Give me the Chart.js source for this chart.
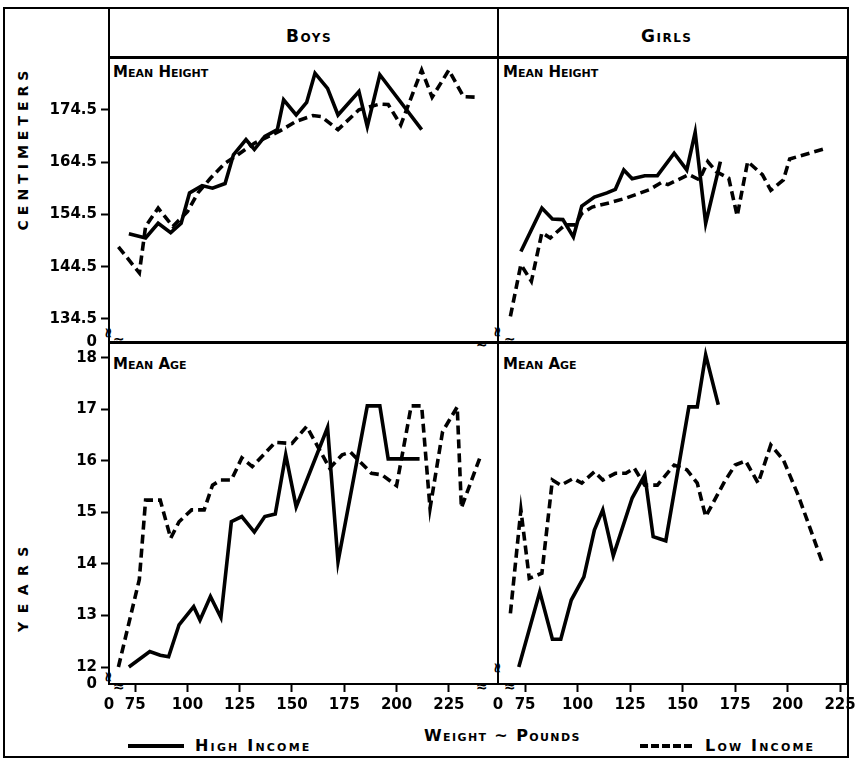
<!DOCTYPE html>
<html><head><meta charset="utf-8">
<script src="https://cdn.jsdelivr.net/npm/chart.js@4.4.0/dist/chart.umd.min.js"></script>
<style>
html,body{margin:0;padding:0;background:#fff;}
#wrap{position:relative;width:856px;height:761px;overflow:hidden;background:#fff;font-family:"DejaVu Sans",sans-serif;font-weight:bold;color:#000;}
canvas{position:absolute;}
.ln{position:absolute;background:#000;}
.t{position:absolute;white-space:nowrap;font-variant:small-caps;line-height:1;}
.v{position:absolute;white-space:nowrap;line-height:1;transform:rotate(-90deg);transform-origin:center center;}
.br{position:absolute;font-size:14px;line-height:1;font-weight:bold;}
.brv{position:absolute;font-size:14px;line-height:1;font-weight:bold;transform:rotate(90deg);}
</style></head><body>
<div id="wrap">
  <div class="ln" style="left:3px;top:7px;width:846px;height:2px"></div>
  <div class="ln" style="left:3px;top:756px;width:846px;height:2px"></div>
  <div class="ln" style="left:3px;top:7px;width:2px;height:751px"></div>
  <div class="ln" style="left:847px;top:7px;width:2px;height:751px"></div>
  <div class="ln" style="left:108px;top:7px;width:2px;height:52px"></div>
  <div class="ln" style="left:497px;top:7px;width:2px;height:52px"></div>
  <div class="ln" style="left:108px;top:56px;width:741px;height:2px"></div>

  <div class="t" style="left:286px;top:28px;font-size:17px;letter-spacing:1.5px">Boys</div>
  <div class="t" style="left:641px;top:28px;font-size:17px;letter-spacing:1.5px">Girls</div>
  <div class="t" style="left:113px;top:65px;font-size:15px">Mean Height</div>
  <div class="t" style="left:503px;top:65px;font-size:15px">Mean Height</div>
  <div class="t" style="left:113px;top:357px;font-size:15px">Mean Age</div>
  <div class="t" style="left:503px;top:357px;font-size:15px">Mean Age</div>

  <div class="v" style="left:-62px;top:141px;width:170px;text-align:center;font-size:14px;letter-spacing:5px">CENTIMETERS</div>
  <div class="v" style="left:-29px;top:578px;width:104px;text-align:center;font-size:14px;letter-spacing:8.5px">YEARS</div>

  <div class="ln" style="left:128px;top:744px;width:56px;height:4px"></div>
  <div class="t" style="left:195px;top:738px;font-size:16px;letter-spacing:2.2px">High Income</div>
  <div class="t" style="left:424px;top:728px;font-size:16px;letter-spacing:1.4px">Weight ~ Pounds</div>
  <div style="position:absolute;left:640px;top:744px;width:54px;height:4px;background:repeating-linear-gradient(90deg,#000 0 8px,transparent 8px 11px)"></div>
  <div class="t" style="left:705px;top:738px;font-size:16px;letter-spacing:2.2px">Low Income</div>

  <!-- axis break marks -->
  <div class="brv" style="left:103px;top:326px">≈</div>
  <div class="br" style="left:113px;top:333px">≈</div>
  <div class="br" style="left:476px;top:336px">≈</div>
  <div class="brv" style="left:492px;top:325px">≈</div>
  <div class="br" style="left:504px;top:333px">≈</div>
  <div class="brv" style="left:103px;top:670px">≈</div>
  <div class="br" style="left:113px;top:679px">≈</div>
  <div class="br" style="left:476px;top:679px">≈</div>
  <div class="brv" style="left:492px;top:661px">≈</div>
  <div class="br" style="left:504px;top:679px">≈</div>

  <canvas id="cA" width="468" height="300" style="left:30px;top:50px"></canvas>
  <canvas id="cB" width="468" height="400" style="left:30px;top:335px"></canvas>
  <canvas id="cC" width="360" height="300" style="left:498px;top:50px"></canvas>
  <canvas id="cD" width="370" height="400" style="left:488px;top:335px"></canvas>
</div>
<script>
// ---- Data (weight in pounds, height in cm, age in years) ----
const boysHeightHighWt = [72,80,86,92,97,101,107,112,118,122,128,132,137,143,146,152,157,161,167,172,182,186,192,212];
const boysHeightHighCm = [150.8,150.0,152.8,151.0,152.8,158.6,160.0,159.5,160.4,165.9,168.8,166.9,169.4,170.7,176.4,173.5,175.9,181.5,178.6,173.5,178.0,171.3,181.2,170.7];
const boysHeightLowWt  = [67,77,80,86,93,100,105,111,118,123,132,144,152,160,164,172,182,192,196,202,212,217,225,232,238];
const boysHeightLowCm  = [148.3,143.3,152.2,155.7,152.2,155.0,158.6,161.4,164.3,165.6,168.1,170.4,172.3,173.4,173.2,170.7,174.5,175.6,175.5,171.6,182.1,176.9,182.1,177.0,176.9];

const girlsHeightHighWt = [73,83,88,93,98,102,108,114,118,122,126,132,138,146,152,156,161,168];
const girlsHeightHighCm = [147.4,155.7,153.6,153.5,150.2,156.1,157.8,158.6,159.3,163.0,161.3,161.9,161.9,166.2,163.0,170.2,152.8,164.6];
const girlsHeightLowWt  = [68,73,78,83,87,94,99,102,107,115,123,134,140,143,153,158,162,166,172,176,181,188,192,198,201,219];
const girlsHeightLowCm  = [135.0,144.9,141.7,151.0,150.0,152.5,152.5,154.7,155.9,156.7,157.6,159.2,160.6,160.2,162.1,161.1,164.6,162.7,161.4,154.2,164.6,162.1,159.1,161.1,165.1,167.2];

const boysAgeHighWt = [72,82,87,91,96,103,106,111,116,121,126,132,137,142,147,152,167,172,186,192,196,211];
const boysAgeHighYr = [12.0,12.3,12.23,12.2,12.82,13.17,12.91,13.37,12.96,14.82,14.92,14.62,14.92,14.97,16.12,15.11,16.65,14.04,17.07,17.07,16.04,16.04];
const boysAgeLowWt  = [67,77,80,87,92,96,102,108,112,116,121,126,131,142,150,157,168,174,178,188,193,200,207,212,216,222,229,231,240];
const boysAgeLowYr  = [12.0,13.7,15.24,15.24,14.5,14.82,15.05,15.05,15.53,15.63,15.63,16.06,15.89,16.36,16.34,16.67,15.86,16.12,16.17,15.76,15.73,15.52,17.07,17.07,15.08,16.57,17.05,15.09,16.08];

const girlsAgeHighWt = [72,82,88,92,97,103,108,112,117,126,132,136,142,153,157,161,167];
const girlsAgeHighYr = [12.0,13.46,12.54,12.54,13.3,13.75,14.66,15.05,14.16,15.28,15.73,14.53,14.45,17.05,17.05,18.06,17.09];
const girlsAgeLowWt  = [68,73,77,83,88,92,98,102,108,112,118,123,127,132,138,146,152,157,161,170,175,180,186,192,198,205,211,217];
const girlsAgeLowYr  = [13.04,15.05,13.72,13.82,15.63,15.53,15.66,15.57,15.79,15.63,15.76,15.76,15.86,15.53,15.53,15.92,15.83,15.57,14.92,15.6,15.92,16.0,15.57,16.31,16.02,15.34,14.66,13.98];

// ---- Tick labels ----
const heightTicks = [134.5,144.5,154.5,164.5,174.5];
const ageTicks = [12,13,14,15,16,17,18];
const weightTicks = [75,100,125,150,175,200,225];

const FONT = {family:'"DejaVu Sans", sans-serif', size:15, weight:'bold'};
const pts = (xs, ys) => xs.map((x,i)=>({x, y:ys[i]}));

const framePlugin = {
  id:'frame',
  afterDraw(chart){
    const {ctx, chartArea:a} = chart;
    ctx.save(); ctx.strokeStyle='#000'; ctx.lineWidth=2;
    ctx.strokeRect(a.left, a.top, a.right-a.left, a.bottom-a.top);
    ctx.restore();
  }
};

function zeroPad(s){ s.paddingTop=0; s.paddingBottom=0; s.paddingLeft=0; s.paddingRight=0; }

function tickAxis(list, min, max, fmt, opts){
  return Object.assign({
    type:'linear', min, max,
    afterBuildTicks(axis){ axis.ticks = [{value:min}].concat(list.map(v=>({value:v}))); },
    ticks:{ autoSkip:false, maxRotation:0, color:'#000', font:FONT, padding:4,
      callback:(v)=> (Math.abs(v-min)<1e-6 ? '0' : fmt(v)) },
    grid:{ drawOnChartArea:false, tickLength:8, tickWidth:2,
      tickColor:(c)=> c.index===0 ? 'rgba(0,0,0,0)' : '#000' },
    border:{display:false}
  }, opts||{});
}

function makeChart(id, high, low, xr, yr, showX, showY, yList, yFmt, pad){
  const xScale = showX
    ? tickAxis(weightTicks, xr[0], xr[1], v=>String(v), {afterFit(s){ s.height = 51; zeroPad(s); }})
    : {type:'linear', display:false, min:xr[0], max:xr[1]};
  const yScale = showY
    ? tickAxis(yList, yr[0], yr[1], yFmt, {afterFit(s){ s.width = 79; zeroPad(s); }})
    : {type:'linear', display:false, min:yr[0], max:yr[1]};
  return new Chart(document.getElementById(id), {
    type:'scatter',
    data:{ datasets:[
      {label:'High Income', data:high, showLine:true, borderColor:'#000', borderWidth:3.6, pointRadius:0, tension:0, fill:false, borderJoinStyle:'miter'},
      {label:'Low Income', data:low, showLine:true, borderColor:'#000', borderWidth:3.6, borderDash:[9,5], pointRadius:0, tension:0, fill:false}
    ]},
    options:{
      responsive:false, animation:false, devicePixelRatio:1,
      layout:{padding:pad},
      plugins:{legend:{display:false}, tooltip:{enabled:false}},
      scales:{x:xScale, y:yScale}
    },
    plugins:[framePlugin]
  });
}

const xBoys = [62.5, 248.5], xGirls = [62.1, 228.3];
const yHeight = [130.1, 184.4], yAge = [11.67, 18.29];
makeChart('cA', pts(boysHeightHighWt,boysHeightHighCm), pts(boysHeightLowWt,boysHeightLowCm), xBoys, yHeight, false, true, heightTicks, v=>v.toFixed(1), {top:8,bottom:8,left:0,right:0});
makeChart('cB', pts(boysAgeHighWt,boysAgeHighYr), pts(boysAgeLowWt,boysAgeLowYr), xBoys, yAge, true, true, ageTicks, v=>String(v), {top:8,bottom:0,left:0,right:0});
makeChart('cC', pts(girlsHeightHighWt,girlsHeightHighCm), pts(girlsHeightLowWt,girlsHeightLowCm), xGirls, yHeight, false, false, heightTicks, v=>v.toFixed(1), {top:8,bottom:8,left:0,right:11});
makeChart('cD', pts(girlsAgeHighWt,girlsAgeHighYr), pts(girlsAgeLowWt,girlsAgeLowYr), xGirls, yAge, true, false, ageTicks, v=>String(v), {top:8,bottom:0,left:10,right:11});
</script>
</body></html>
